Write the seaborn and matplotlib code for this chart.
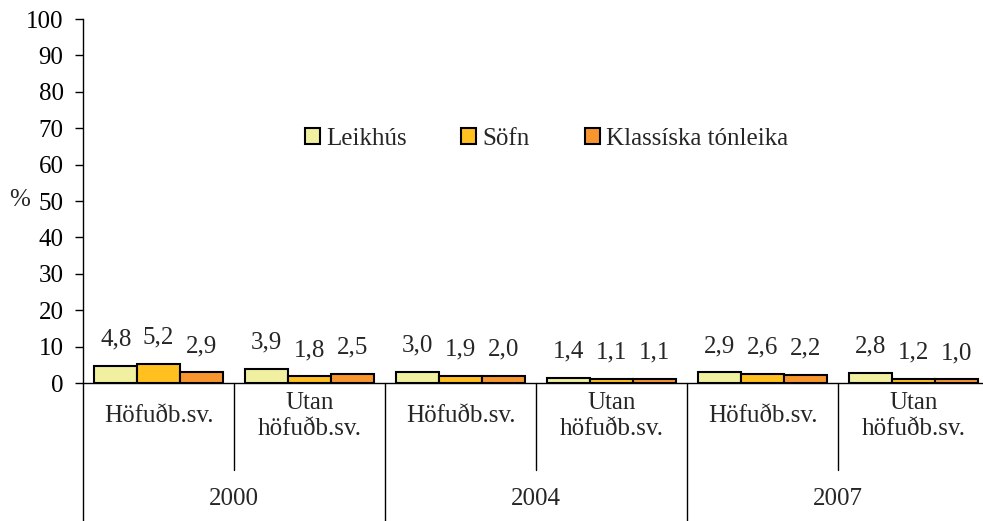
import matplotlib
matplotlib.use("Agg")
import matplotlib.pyplot as plt
import matplotlib.transforms as mtransforms
import seaborn as sns
import pandas as pd

# data
GROUPS    = ["2000-H", "2000-U", "2004-H", "2004-U", "2007-H", "2007-U"]
CAT_LABEL = ["Höfuðb.sv.", "Utan\nhöfuðb.sv."] * 3
YEARS     = ["2000", "2004", "2007"]
SERIES    = ["Leikhús", "Söfn", "Klassíska tónleika"]
LEIKHUS   = [4.8, 3.9, 3.0, 1.4, 2.9, 2.8]
SOFN      = [5.2, 1.8, 1.9, 1.1, 2.6, 1.2]
KLASS     = [2.9, 2.5, 2.0, 1.1, 2.2, 1.0]
COLORS    = ["#F0F0A0", "#FFC020", "#F7962E"]

df = pd.DataFrame({
    "group": GROUPS * 3,
    "series": [s for s in SERIES for _ in GROUPS],
    "value": LEIKHUS + SOFN + KLASS,
})

sns.set_theme(style="white")
plt.rcParams["font.family"] = ["Liberation Serif", "DejaVu Serif"]
plt.rcParams["font.size"] = 18

W, H = 983, 521
fig = plt.figure(figsize=(W / 100, H / 100), dpi=100)
ax = fig.add_axes([83 / W, 138 / H, 906 / W, 364 / H])

sns.barplot(data=df, x="group", y="value", hue="series", order=GROUPS,
            hue_order=SERIES, palette=COLORS, width=0.85, edgecolor="black",
            linewidth=1.5, saturation=1, legend=False, ax=ax)

ax.set_xlim(-0.5, 5.5)
ax.set_ylim(0, 100)
ax.set_yticks(range(0, 101, 10))
ax.set_xticks([])
ax.set_xlabel("")
ax.set_ylabel("")
ax.tick_params(axis="y", direction="out", length=6, width=1, pad=8,
               labelsize=18, colors="black", left=True)
for s in ["top", "right"]:
    ax.spines[s].set_visible(False)
for s in ["left", "bottom"]:
    ax.spines[s].set_color("black")
    ax.spines[s].set_linewidth(1)

# value labels above bars
for cont in ax.containers:
    for p in cont:
        v = p.get_height()
        ax.annotate(f"{v:.1f}".replace(".", ","),
                    (p.get_x() + p.get_width() / 2, v),
                    xytext=(0, 19), textcoords="offset points",
                    ha="center", va="center", fontsize=18)

# multi-level category axis
tr = mtransforms.blended_transform_factory(ax.transData, fig.transFigure)
y0 = 1 - 383 / H
for i, lab in enumerate(CAT_LABEL):
    ax.text(i, 1 - 416 / H, lab, transform=tr, ha="center", va="center",
            fontsize=18, linespacing=1.2)
for j, yr in enumerate(YEARS):
    ax.text(2 * j + 0.5, 1 - 499 / H, yr, transform=tr, ha="center",
            va="center", fontsize=18)
for xs in [0.5, 2.5, 4.5]:
    ax.plot([xs, xs], [y0, 1 - 470 / H], transform=tr, color="black",
            lw=1, clip_on=False)
for xs in [-0.5, 1.5, 3.5, 5.5]:
    ax.plot([xs, xs], [y0, 0], transform=tr, color="black",
            lw=1, clip_on=False)

fig.text(20 / W, 1 - 200 / H, "%", ha="center", va="center", fontsize=18)

fig.legend(ax.containers, SERIES, loc="center left", ncol=3,
           bbox_to_anchor=(292 / W, 1 - 139 / H), frameon=False,
           borderpad=0, handlelength=0.6, handleheight=0.6,
           handletextpad=0.25, columnspacing=2.2, fontsize=18)

fig.savefig("out.png", dpi=100, facecolor="white")
